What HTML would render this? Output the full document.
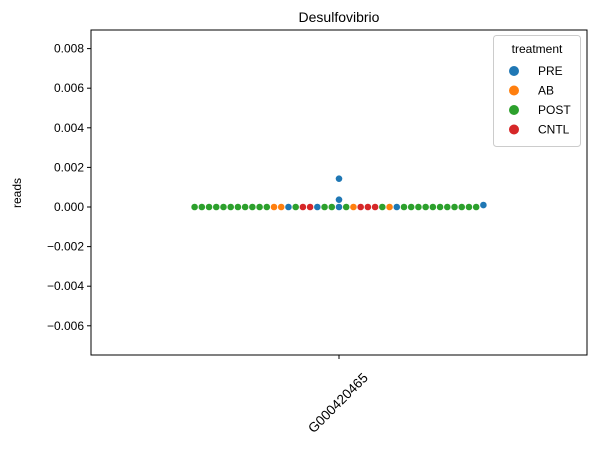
<!DOCTYPE html>
<html><head><meta charset="utf-8"><style>
body{margin:0;background:#fff}
svg text{font-family:"Liberation Sans","DejaVu Sans",sans-serif;fill:#000}
</style></head><body>
<svg id="chart" width="596" height="450" viewBox="0 0 596 450">
<text x="339" y="22" font-size="14" text-anchor="middle">Desulfovibrio</text>
<text transform="translate(21,193) rotate(-90)" font-size="12" text-anchor="middle">reads</text>
<g id="yaxis"></g>
<g id="xaxis"></g>
<g id="points"></g>
<rect x="91" y="30" width="496" height="325" fill="none" stroke="#000" stroke-width="1"/>
<g id="legend"></g>
</svg>
<script>
const categories=["G000420465"];
const yTicks=[-0.006,-0.004,-0.002,0.000,0.002,0.004,0.006,0.008];
const legendLabels=["PRE","AB","POST","CNTL"];
const legendColors=["#1f77b4","#ff7f0e","#2ca02c","#d62728"];
// points in placement order
const treatments=["PRE","PRE","PRE","POST","POST","POST","AB","PRE","CNTL","CNTL","CNTL","CNTL","CNTL","POST","POST","PRE","AB","AB","PRE","AB","POST",
"POST","POST","POST","POST","POST","POST","POST","POST","POST","POST","POST","POST","POST","POST","POST","POST","POST","POST","POST","POST","POST","PRE"];
const values=[0.00143,0.00037,0,0,0,0,0,0,0,0,0,0,0,0,0,0,0,0,0,0,0,
0,0,0,0,0,0,0,0,0,0,0,0,0,0,0,0,0,0,0,0,0,0.0001];
const NS="http://www.w3.org/2000/svg";
const y0=207,k=19800;
const Y=v=>y0-v*k;
const X=i=>339+i*496;
function mk(t,a,p){const e=document.createElementNS(NS,t);for(const q in a)e.setAttribute(q,a[q]);(p||document.getElementById('chart')).appendChild(e);return e;}
const ya=document.getElementById('yaxis');
yTicks.forEach(v=>{
 const y=Y(v);
 const l=mk('line',{x1:87,x2:91,y1:y,y2:y,stroke:'#000'},ya);
 
 
 const t=mk('text',{x:84,y:y+4,'font-size':12,'text-anchor':'end'},ya);
 
 
 t.textContent=(v<0?'\u2212':'')+Math.abs(v).toFixed(3);
});
const xa=document.getElementById('xaxis');
categories.forEach((c,i)=>{
 const x=339+i*496;
 const l=mk('line',{x1:x,x2:x,y1:355,y2:359,stroke:'#000'},xa);
 
 
 const t=mk('text',{transform:`translate(${x-1},${403}) rotate(-45)`,y:4.5,'font-size':13.5,'text-anchor':'middle'},xa);
 
 
 t.textContent=c;
});
const d=7.22,placed=[];
const pg=document.getElementById('points');
values.forEach((v,i)=>{
 const y=Y(v);let off=0;
 for(let s=0;s<200;s++){
  const o=s===0?0:(s%2===1?-Math.ceil(s/2):Math.ceil(s/2))*d;
  if(placed.every(p=>Math.hypot(p[0]-o,p[1]-y)>=d*0.99)){off=o;break;}
 }
 placed.push([off,y]);
 const c=mk('circle',{cx:X(0)+off,cy:y,r:3.3,fill:legendColors[legendLabels.indexOf(treatments[i])]},pg);
 
 
});
const lg=document.getElementById('legend');
const bx=mk('rect',{x:493.5,y:35.5,width:87,height:111,rx:3,fill:'#fff','fill-opacity':0.8,stroke:'#ccc'},lg);


const tt=mk('text',{x:537,y:53,'font-size':12,'text-anchor':'middle'},lg);


tt.textContent='treatment';
legendLabels.forEach((n,i)=>{
 const y=71+i*19.5;
 const c=mk('circle',{cx:514,cy:y,r:5,fill:legendColors[i]},lg);
 
 
 const t=mk('text',{x:538,y:y+4,'font-size':12},lg);
 
 
 t.textContent=n;
});
</script>
</body></html>
